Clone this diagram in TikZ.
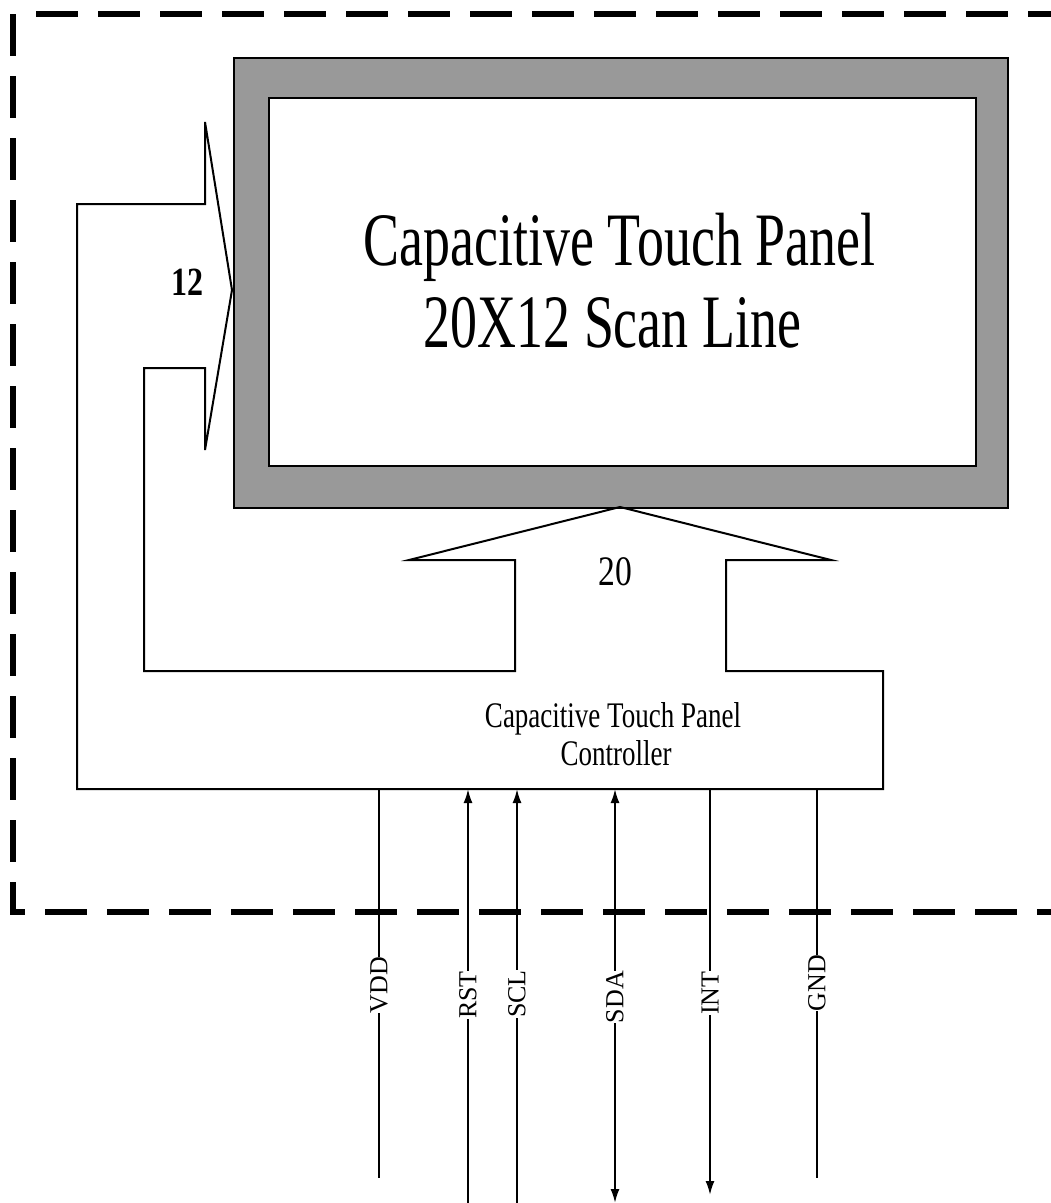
\documentclass[tikz,border=0pt]{standalone}
\usepackage{fontspec}
\setmainfont{Liberation Serif}
\newfontfamily\titlefont[FakeStretch=0.714]{Liberation Serif}
\newfontfamily\ctrlfont[FakeStretch=0.75]{Liberation Serif}
\newfontfamily\numfont[FakeStretch=0.8]{Liberation Serif}
\usetikzlibrary{arrows.meta}
\definecolor{panelgray}{RGB}{153,153,153}
\begin{document}
\begin{tikzpicture}[x=1pt,y=-1pt,line join=miter,
  outline/.style={draw=black,line width=2pt},
  sig/.style={draw=black,line width=2pt},
  tiparrow/.style={-{Latex[length=14pt,width=9pt]}},
  lbl/.style={rotate=90,inner sep=0pt,fill=white,font=\fontsize{26}{26}\selectfont},
  border/.style={draw=black,line width=6.5pt,dash pattern=on 42pt off 20pt},
  txt/.style={inner sep=0pt,anchor=base}]
\useasboundingbox (0,0) rectangle (1051,1203);
\fill[white] (0,0) rectangle (1051,1203);
\begin{scope}
\clip (0,0) rectangle (1051,1203);
% dashed module border
\draw[border] (13,14) -- (13,912) -- (1100,912);
\draw[border] (36,14) -- (1100,14);
% panel
\node[draw=black,fill=panelgray,line width=1.5pt,inner sep=0pt,minimum width=774pt,minimum height=450pt,anchor=north west] (panel) at (233,57) {};
\node[draw=black,fill=white,line width=2pt,inner sep=0pt,minimum width=707pt,minimum height=368pt,anchor=north west] (screen) at (268,97) {};
\node[txt,font=\titlefont\fontsize{75.5}{80}\selectfont] (t1) at (619.5,265) {Capacitive Touch Panel};
\node[txt,font=\titlefont\fontsize{75.5}{80}\selectfont] (t2) at (612.5,347) {20X12 Scan Line};
% controller outline with bus arrows
\draw[outline] (77,204) -- (205,204) -- (205,122) -- (232,290) -- (205,450) -- (205,368)
  -- (144,368) -- (144,671) -- (515,671) -- (515,560) -- (409,560) -- (620,507)
  -- (831,560) -- (726,560) -- (726,671) -- (883,671) -- (883,789) -- (77,789) -- cycle;
\node[txt,font=\numfont\bfseries\fontsize{40}{40}\selectfont] (n12) at (187,295) {12};
\node[txt,font=\numfont\fontsize{42}{42}\selectfont] (n20) at (615,585) {20};
\node[txt,font=\ctrlfont\fontsize{36}{36}\selectfont] (c1) at (613,727) {Capacitive Touch Panel};
\node[txt,font=\ctrlfont\fontsize{36}{36}\selectfont] (c2) at (616,765) {Controller};
% pins on the controller
\coordinate (pVDD) at (379,789);
\coordinate (pRST) at (468,789);
\coordinate (pSCL) at (517,789);
\coordinate (pSDA) at (615,789);
\coordinate (pINT) at (710,789);
\coordinate (pGND) at (817,789);
% free ends
\coordinate (eVDD) at (379,1178);
\coordinate (eRST) at (468,1215);
\coordinate (eSCL) at (517,1215);
\coordinate (eSDA) at (615,1203);
\coordinate (eINT) at (710,1195);
\coordinate (eGND) at (817,1178);
% labels
\node[lbl] (lVDD) at (379,985) {VDD};
\node[lbl] (lRST) at (468,995) {RST};
\node[lbl] (lSCL) at (517,994) {SCL};
\node[lbl] (lSDA) at (615,997) {SDA};
\node[lbl] (lINT) at (710,993) {INT};
\node[lbl] (lGND) at (817,983) {GND};
% signal lines
\draw[sig] (pVDD) -- (lVDD);
\draw[sig] (lVDD) -- (eVDD);
\draw[sig,tiparrow] (lRST) -- (pRST);
\draw[sig] (lRST) -- (eRST);
\draw[sig,tiparrow] (lSCL) -- (pSCL);
\draw[sig] (lSCL) -- (eSCL);
\draw[sig,tiparrow] (lSDA) -- (pSDA);
\draw[sig,tiparrow] (lSDA) -- (eSDA);
\draw[sig] (pINT) -- (lINT);
\draw[sig,tiparrow] (lINT) -- (eINT);
\draw[sig] (pGND) -- (lGND);
\draw[sig] (lGND) -- (eGND);
\end{scope}
\end{tikzpicture}
\end{document}
